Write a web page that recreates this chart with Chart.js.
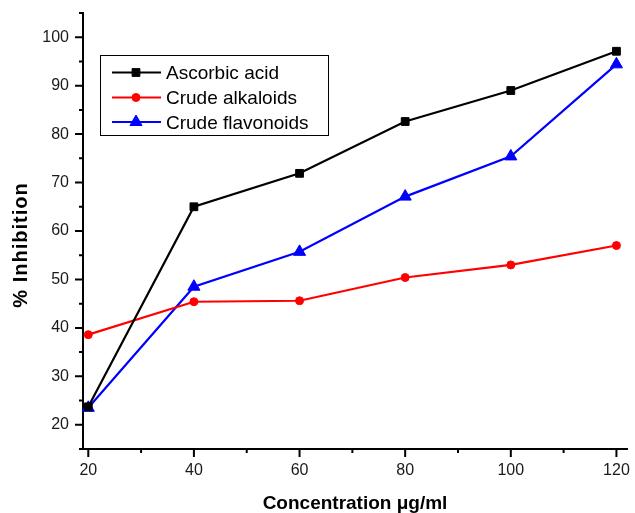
<!DOCTYPE html>
<html>
<head>
<meta charset="utf-8">
<script src="https://cdn.jsdelivr.net/npm/chart.js@4.4.0/dist/chart.umd.min.js"></script>
<style>
html, body { margin: 0; padding: 0; background: #fff; }
</style>
</head>
<body>
<canvas id="mychart" width="635" height="513"></canvas>
<script>
var concentration = [20, 40, 60, 80, 100, 120]
var ascorbic = [23.7, 65.0, 71.9, 82.6, 89.0, 97.1]
var alkaloids = [38.6, 45.4, 45.6, 50.4, 53.0, 57.0]
var flavonoids = [23.5, 48.5, 55.7, 67.1, 75.4, 94.4]

var xTicks = [20, 40, 60, 80, 100, 120]
var xMinor = [30, 50, 70, 90, 110]
var yTicks = [20, 30, 40, 50, 60, 70, 80, 90, 100]
var yMinor = [15, 25, 35, 45, 55, 65, 75, 85, 95, 105]

var FONT = "'Liberation Sans', Arial, sans-serif"

function pairs(ys) {
    return concentration.map(function (x, i) { return { x: x, y: ys[i] } })
}

// ticks, axis titles and the boxed legend, drawn the Origin way
var originPlugin = {
    id: 'origin',
    afterDraw: function (chart) {
        var ctx = chart.ctx
        var xs = chart.scales.x, ys = chart.scales.y
        var a = chart.chartArea
        ctx.save()
        ctx.strokeStyle = '#000'
        ctx.lineWidth = 2
        ctx.beginPath()
        xTicks.forEach(function (v) { var p = xs.getPixelForValue(v); ctx.moveTo(p, a.bottom); ctx.lineTo(p, a.bottom + 8) })
        xMinor.forEach(function (v) { var p = xs.getPixelForValue(v); ctx.moveTo(p, a.bottom); ctx.lineTo(p, a.bottom + 4) })
        yTicks.forEach(function (v) { var p = ys.getPixelForValue(v); ctx.moveTo(a.left, p); ctx.lineTo(a.left - 8, p) })
        yMinor.forEach(function (v) { var p = ys.getPixelForValue(v); ctx.moveTo(a.left, p); ctx.lineTo(a.left - 4, p) })
        ctx.stroke()

        // axis titles
        ctx.fillStyle = '#000'
        ctx.textAlign = 'center'
        ctx.textBaseline = 'alphabetic'
        ctx.font = 'bold 19px ' + FONT
        ctx.fillText('Concentration \u03bcg/ml', (a.left + a.right) / 2, 509)
        ctx.save()
        ctx.translate(27, 245)
        ctx.rotate(-Math.PI / 2)
        ctx.font = 'bold 20px ' + FONT
        try { ctx.letterSpacing = '1px' } catch (e) {}
        ctx.fillText('% Inhibition', 0, 0)
        ctx.restore()

        // legend
        ctx.fillStyle = '#fff'
        ctx.fillRect(100.5, 55.5, 228, 80)
        ctx.lineWidth = 1
        ctx.strokeStyle = '#000'
        ctx.strokeRect(100.5, 55.5, 228, 80)
        var rowY = [72.5, 97.5, 122]
        chart.data.datasets.forEach(function (ds, i) {
            var y = rowY[i]
            ctx.strokeStyle = ds.borderColor
            ctx.lineWidth = 2
            ctx.beginPath()
            ctx.moveTo(112, y)
            ctx.lineTo(161, y)
            ctx.stroke()
            ctx.fillStyle = ds.pointBackgroundColor
            ctx.strokeStyle = ds.borderColor
            ctx.lineWidth = 1
            Chart.helpers.drawPoint(ctx, { pointStyle: ds.pointStyle, radius: ds.pointRadius, rotation: 0, borderWidth: 1 }, 136, y)
            ctx.fillStyle = '#000'
            ctx.textAlign = 'left'
            ctx.font = '19px ' + FONT
            ctx.fillText(ds.label, 166, y + 6.8)
        })
        ctx.restore()
    }
}

var myChart = document.getElementById('mychart').getContext('2d')

var chart = new Chart(myChart, {
    type: 'line',
    data: {
        datasets: [
            {
                label: 'Ascorbic acid',
                data: pairs(ascorbic),
                borderColor: '#000000',
                pointBackgroundColor: '#000000',
                pointStyle: 'rect',
                pointRadius: 5.5
            },
            {
                label: 'Crude alkaloids',
                data: pairs(alkaloids),
                borderColor: '#ff0000',
                pointBackgroundColor: '#ff0000',
                pointStyle: 'circle',
                pointRadius: 4
            },
            {
                label: 'Crude flavonoids',
                data: pairs(flavonoids),
                borderColor: '#0000ff',
                pointBackgroundColor: '#0000ff',
                pointStyle: 'triangle',
                pointRadius: 7
            }
        ]
    },
    options: {
        responsive: false,
        animation: false,
        clip: false,
        layout: { padding: { left: 0, right: 7, top: 13, bottom: 0 } },
        elements: {
            line: { borderWidth: 2.2, tension: 0 },
            point: { borderWidth: 1, hoverRadius: 5 }
        },
        plugins: {
            legend: { display: false },
            tooltip: { enabled: false }
        },
        scales: {
            x: {
                type: 'linear',
                min: 19,
                max: 122,
                afterFit: function (s) { s.height = 64; s.paddingLeft = 0; s.paddingRight = 0 },
                afterBuildTicks: function (s) { s.ticks = xTicks.map(function (v) { return { value: v } }) },
                grid: { display: false, drawTicks: false },
                border: { display: true, color: '#000', width: 2 },
                ticks: { color: '#1a1a1a', padding: 12, maxRotation: 0, font: { family: FONT, size: 16 } }
            },
            y: {
                min: 15,
                max: 105,
                afterFit: function (s) { s.width = 83; s.paddingTop = 0; s.paddingBottom = 0 },
                afterBuildTicks: function (s) { s.ticks = yTicks.map(function (v) { return { value: v } }) },
                grid: { display: false, drawTicks: false },
                border: { display: true, color: '#000', width: 2 },
                ticks: { color: '#1a1a1a', padding: 14, font: { family: FONT, size: 16 } }
            }
        }
    },
    plugins: [originPlugin]
})
</script>
</body>
</html>
